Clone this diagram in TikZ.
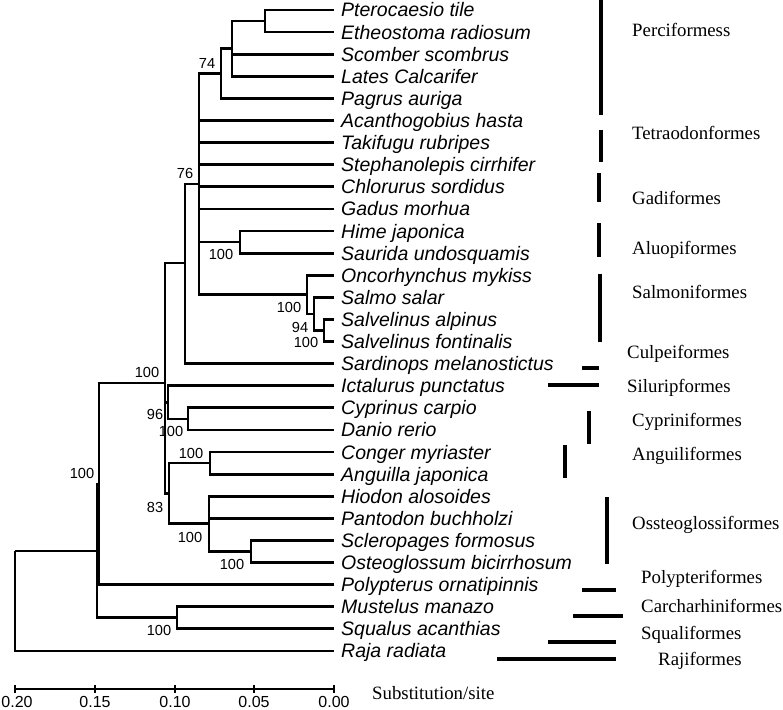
\documentclass[tikz,border=0pt]{standalone}
\usepackage{fontspec}
\setmainfont{Liberation Serif}
\newfontfamily\treefont{Liberation Sans}
\usepackage{tikz}

\begin{document}
\begin{tikzpicture}[x=1pt, y=-1pt,
    br/.style={line width=2.8pt},
    bar/.style={line width=3.2pt},
    leaf/.style={anchor=west, inner xsep=7pt, inner ysep=0pt,
      text height=14pt, text depth=0pt,
      font=\treefont\itshape\fontsize{19.5}{22}\selectfont},
    boot/.style={inner sep=0pt, text height=10.5pt, text depth=0pt,
      font=\treefont\fontsize{14.6}{16}\selectfont},
    ord/.style={anchor=west, inner sep=0pt, text height=12.5pt, text depth=0pt,
      font=\fontsize{18.8}{21}\selectfont},
    ticklab/.style={anchor=base, inner sep=0pt,
      font=\treefont\fontsize{16}{18}\selectfont}
  ]
    \useasboundingbox (0,0) rectangle (783,709);

    % taxa
    \node[leaf] (pte) at (334,10) {Pterocaesio tile};
    \node[leaf] (eth) at (334,32.1) {Etheostoma radiosum};
    \node[leaf] (sco) at (334,54.2) {Scomber scombrus};
    \node[leaf] (lat) at (334,76.3) {Lates Calcarifer};
    \node[leaf] (pag) at (334,98.4) {Pagrus auriga};
    \node[leaf] (aca) at (334,120.5) {Acanthogobius hasta};
    \node[leaf] (tak) at (334,142.6) {Takifugu rubripes};
    \node[leaf] (ste) at (334,164.7) {Stephanolepis cirrhifer};
    \node[leaf] (chl) at (334,186.8) {Chlorurus sordidus};
    \node[leaf] (gad) at (334,208.9) {Gadus morhua};
    \node[leaf] (him) at (334,231) {Hime japonica};
    \node[leaf] (sau) at (334,253.1) {Saurida undosquamis};
    \node[leaf] (onc) at (334,275.2) {Oncorhynchus mykiss};
    \node[leaf] (sam) at (334,297.3) {Salmo salar};
    \node[leaf] (sva) at (334,319.4) {Salvelinus alpinus};
    \node[leaf] (svf) at (334,341.5) {Salvelinus fontinalis};
    \node[leaf] (sar) at (334,363.6) {Sardinops melanostictus};
    \node[leaf] (ict) at (334,385.7) {Ictalurus punctatus};
    \node[leaf] (cyp) at (334,407.8) {Cyprinus carpio};
    \node[leaf] (dan) at (334,429.9) {Danio rerio};
    \node[leaf] (con) at (334,452) {Conger myriaster};
    \node[leaf] (ang) at (334,474.1) {Anguilla japonica};
    \node[leaf] (hio) at (334,496.2) {Hiodon alosoides};
    \node[leaf] (pan) at (334,518.3) {Pantodon buchholzi};
    \node[leaf] (scl) at (334,540.4) {Scleropages formosus};
    \node[leaf] (ost) at (334,562.5) {Osteoglossum bicirrhosum};
    \node[leaf] (pol) at (334,584.6) {Polypterus ornatipinnis};
    \node[leaf] (mus) at (334,606.7) {Mustelus manazo};
    \node[leaf] (squ) at (334,628.8) {Squalus acanthias};
    \node[leaf] (raj) at (334,650.9) {Raja radiata};

    % internal nodes
    \coordinate (pteeth) at (265,21);
    \coordinate (scolat) at (232,48.6);
    \coordinate (perc) at (221,73.5);
    \coordinate (himsau) at (240,242);
    \coordinate (salv) at (324,330.5);
    \coordinate (salmo) at (314,313.9);
    \coordinate (salmon) at (307,294.5);
    \coordinate (c76) at (199,184);
    \coordinate (clupeo) at (185,263);
    \coordinate (cypdan) at (188,418.9);
    \coordinate (ostario) at (168,402.3);
    \coordinate (conang) at (210,463);
    \coordinate (scloste) at (251,551.5);
    \coordinate (osteo) at (209,523.8);
    \coordinate (elopo) at (169,493.4);
    \coordinate (teleo) at (165,383);
    \coordinate (actino) at (99,484);
    \coordinate (sharks) at (177,617.75);
    \coordinate (gnatho) at (97,551);
    \coordinate (root) at (15,551);

    % branches
    \draw[br] (pteeth) |- (pte.west) (pteeth) |- (eth.west);
    \draw[br] (scolat) |- (pteeth) (scolat) |- (sco.west) (scolat) |- (lat.west);
    \draw[br] (perc) |- (scolat) (perc) |- (pag.west);
    \draw[br] (c76) |- (perc) (c76) |- (aca.west) (c76) |- (tak.west)
      (c76) |- (ste.west) (c76) |- (chl.west) (c76) |- (gad.west)
      (c76) |- (himsau) (c76) |- (salmon);
    \draw[br] (himsau) |- (him.west) (himsau) |- (sau.west);
    \draw[br] (salmon) |- (onc.west) (salmon) |- (salmo);
    \draw[br] (salmo) |- (sam.west) (salmo) |- (salv);
    \draw[br] (salv) |- (sva.west) (salv) |- (svf.west);
    \draw[br] (clupeo) |- (c76) (clupeo) |- (sar.west);
    \draw[br] (teleo) |- (clupeo) (teleo) |- (ostario) (teleo) |- (elopo);
    \draw[br] (ostario) |- (ict.west) (ostario) |- (cypdan);
    \draw[br] (cypdan) |- (cyp.west) (cypdan) |- (dan.west);
    \draw[br] (elopo) |- (conang) (elopo) |- (osteo);
    \draw[br] (conang) |- (con.west) (conang) |- (ang.west);
    \draw[br] (osteo) |- (hio.west) (osteo) |- (pan.west) (osteo) |- (scloste);
    \draw[br] (scloste) |- (scl.west) (scloste) |- (ost.west);
    \draw[br] (actino) |- (teleo) (actino) |- (pol.west);
    \draw[br] (sharks) |- (mus.west) (sharks) |- (squ.west);
    \draw[br] (gnatho) |- (actino) (gnatho) |- (sharks);
    \draw[br] (root) -- (gnatho) (root) |- (raj.west);

    % bootstrap values
    \node[boot] (b74) at (207,63) {74};
    \node[boot] (b76) at (185,173) {76};
    \node[boot] (bhim) at (221,254) {100};
    \node[boot] (bsal) at (289,307) {100};
    \node[boot] (b94) at (300,327) {94};
    \node[boot] (bsvl) at (306,342) {100};
    \node[boot] (btel) at (147,372) {100};
    \node[boot] (b96) at (155,414) {96};
    \node[boot] (bcyp) at (171,431) {100};
    \node[boot] (bcon) at (191,453) {100};
    \node[boot] (b83) at (155,507) {83};
    \node[boot] (bost) at (190,537) {100};
    \node[boot] (bscl) at (232,564) {100};
    \node[boot] (bact) at (82,473) {100};
    \node[boot] (bshk) at (159,630) {100};

    % orders
    \draw[bar] (601,0) -- (601,115);
    \node[ord] (perciformes) at (632,30) {Perciformess};
    \draw[bar] (601,130) -- (601,162);
    \node[ord] (tetraodon) at (632,133) {Tetraodonformes};
    \draw[bar] (599,173) -- (599,202);
    \node[ord] (gadi) at (632,198) {Gadiformes};
    \draw[bar] (599,223) -- (599,257);
    \node[ord] (aulopi) at (632,248) {Aluopiformes};
    \draw[bar] (600,274) -- (600,342);
    \node[ord] (salmoni) at (632,292) {Salmoniformes};
    \draw[bar] (582,368) -- (599,368);
    \node[ord] (clupei) at (627,352) {Culpeiformes};
    \draw[bar] (548,385) -- (599,385);
    \node[ord] (siluri) at (627,386) {Siluripformes};
    \draw[bar] (589,411) -- (589,444);
    \node[ord] (cyprini) at (632,420) {Cypriniformes};
    \draw[bar] (565,445) -- (565,478);
    \node[ord] (anguilli) at (632,454) {Anguiliformes};
    \draw[bar] (607,497) -- (607,564);
    \node[ord] (ossteo) at (632,523) {Ossteoglossiformes};
    \draw[bar] (582,590) -- (616,590);
    \node[ord] (polypteri) at (641,577) {Polypteriformes};
    \draw[bar] (573,616) -- (623,616);
    \node[ord] (carcharhini) at (641,606) {Carcharhiniformes};
    \draw[bar] (548,642) -- (616,642);
    \node[ord] (squali) at (641,633) {Squaliformes};
    \draw[bar] (497,659) -- (616,659);
    \node[ord] (raji) at (658,659) {Rajiformes};

    % scale
    \draw[br] (15,689) -- (334,689);
    \draw[br] (15,685) -- (15,693) (95,685) -- (95,693) (175,685) -- (175,693)
      (254,685) -- (254,693) (334,685) -- (334,693);
    \node[ticklab] (t20) at (17,707) {0.20};
    \node[ticklab] (t15) at (95,707) {0.15};
    \node[ticklab] (t10) at (175,707) {0.10};
    \node[ticklab] (t05) at (254,707) {0.05};
    \node[ticklab] (t00) at (334,707) {0.00};
    \node[ord] (unit) at (372,693) {Substitution/site};
  \end{tikzpicture}
\end{document}
